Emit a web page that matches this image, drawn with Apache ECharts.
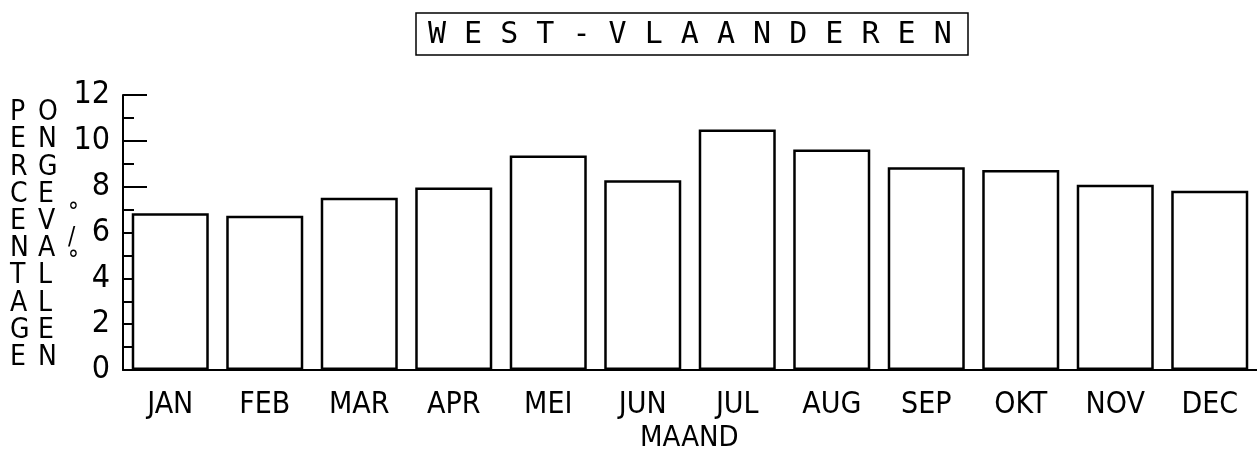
<!DOCTYPE html>
<html>
<head>
<meta charset="utf-8">
<script src="https://cdn.jsdelivr.net/npm/echarts@6/dist/echarts.min.js"></script>
<style>
    html, body { margin: 0; padding: 0; background: #fff; }
    #chart { width: 1257px; height: 456px; }
</style>
</head>
<body>
<div id="chart"></div>
<script>
var maanden = ['JAN', 'FEB', 'MAR', 'APR', 'MEI', 'JUN', 'JUL', 'AUG', 'SEP', 'OKT', 'NOV', 'DEC'];
var percentages = [6.84, 6.73, 7.52, 7.96, 9.36, 8.28, 10.5, 9.62, 8.85, 8.73, 8.08, 7.82];
var yTicks = [0, 2, 4, 6, 8, 10, 12];

var font = 'DejaVu Sans Condensed';

var chart = echarts.init(document.getElementById('chart'));
var option = {
    animation: false,
    backgroundColor: '#fff',
    title: {
        text: 'W E S T - V L A A N D E R E N',
        left: 416,
        top: 13,
        borderColor: '#000',
        borderWidth: 1.5,
        padding: [7, 16, 5, 12],
        textStyle: {
            fontFamily: 'DejaVu Sans Mono',
            fontSize: 30,
            fontWeight: 'normal',
            color: '#000'
        }
    },
    grid: {
        left: 123,
        right: 0,
        top: 95,
        bottom: 86
    },
    xAxis: {
        type: 'category',
        data: maanden,
        axisLine: { lineStyle: { color: '#000', width: 2 } },
        axisTick: { show: false },
        axisLabel: {
            margin: 20,
            color: '#000',
            fontFamily: font,
            fontSize: 30
        }
    },
    yAxis: {
        type: 'value',
        min: yTicks[0],
        max: yTicks[yTicks.length - 1],
        interval: 2,
        axisLine: { show: true, lineStyle: { color: '#000', width: 2 } },
        axisTick: { show: true, inside: true, length: 24, lineStyle: { color: '#000', width: 2 } },
        minorTick: { show: true, splitNumber: 2, length: 11, lineStyle: { color: '#000', width: 2 } },
        splitLine: { show: false },
        axisLabel: {
            margin: 13,
            color: '#000',
            fontFamily: font,
            fontSize: 32
        }
    },
    graphic: [
        {
            type: 'text', left: 10, top: 99,
            style: { text: 'PERCENTAGE'.split('').join('\n'), font: '28px ' + font, lineHeight: 27.2, fill: '#000', align: 'center' }
        },
        {
            type: 'text', left: 38, top: 99,
            style: { text: 'ONGEVALLEN'.split('').join('\n'), font: '28px ' + font, lineHeight: 27.2, fill: '#000', align: 'center' }
        },
        {
            type: 'text', left: 68, top: 202,
            style: { text: '°\n/\n°', font: '24px ' + font, lineHeight: 24, fill: '#000', align: 'center' }
        },
        {
            type: 'text', left: 640, top: 424,
            style: { text: 'MAAND', font: '29px ' + font, fill: '#000' }
        }
    ],
    series: [
        {
            name: 'percentage',
            type: 'bar',
            data: percentages,
            barCategoryGap: '18.5%',
            itemStyle: { color: '#fff', borderColor: '#000', borderWidth: 2.5 }
        }
    ]
};
chart.setOption(option);
window.onresize = chart.resize;
</script>
</body>
</html>
